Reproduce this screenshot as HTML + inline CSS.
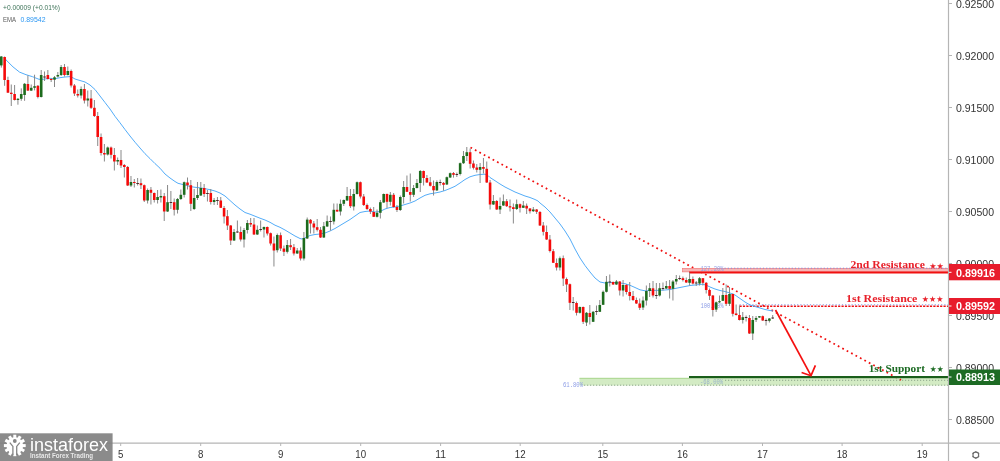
<!DOCTYPE html>
<html><head><meta charset="utf-8"><title>Chart</title>
<style>
html,body{margin:0;padding:0;background:#fff;}
body{width:1000px;height:461px;overflow:hidden;position:relative;font-family:"Liberation Sans",sans-serif;}
svg{position:absolute;left:0;top:0;display:block}
.ax text{font-family:"Liberation Sans",sans-serif;font-size:11px;fill:#333}
.lbl{font-family:"Liberation Serif",serif;font-weight:bold;font-size:11px}
.star{font-family:"DejaVu Sans",sans-serif;font-size:8.4px}
.pill{font-family:"Liberation Sans",sans-serif;font-weight:bold;font-size:11px;fill:#fff}
.fib{font-family:"Liberation Mono",monospace;font-size:6.5px;fill:#8d9de6}
</style></head><body>
<svg width="1000" height="461" viewBox="0 0 1000 461">
<rect width="1000" height="461" fill="#fff"/>
<!-- header -->
<text x="3" y="9.5" font-family="Liberation Sans, sans-serif" font-size="7.6" fill="#3d7358" textLength="57" lengthAdjust="spacingAndGlyphs">+0.00009 (+0.01%)</text>
<text x="3" y="22" font-family="Liberation Sans, sans-serif" font-size="7" fill="#5a5a5a" textLength="13" lengthAdjust="spacingAndGlyphs">EMA</text>
<text x="20.5" y="22" font-family="Liberation Sans, sans-serif" font-size="7" fill="#2b97f3" textLength="25" lengthAdjust="spacingAndGlyphs">0.89542</text>

<!-- support zone -->
<rect x="579.5" y="378" width="369" height="7.5" fill="#d3ebc4"/>
<path d="M579.5 378.3H689" stroke="#a9d68e" stroke-width="1"/>
<path d="M584 385.2H948" stroke="#8fa78c" stroke-width="1" stroke-dasharray="1.2 1.8"/>
<path d="M725 380.3H948" stroke="#8fa78c" stroke-width="1" stroke-dasharray="1.2 1.8"/>
<!-- trend line dotted -->
<path d="M470.5 147.5L901 380" stroke="#f01010" stroke-width="1.75" stroke-dasharray="1.75 3.28" fill="none"/>
<rect x="689" y="376" width="259.5" height="2.2" fill="#1a5e1a"/>
<text class="fib" x="563" y="387" textLength="20" lengthAdjust="spacingAndGlyphs">61.80%</text>
<text class="fib" x="700" y="383.5" style="fill:#9bb3c9" textLength="23" lengthAdjust="spacingAndGlyphs">-68.00%</text>

<!-- 2nd resistance zone -->
<rect x="682.5" y="268.3" width="266" height="3.6" fill="#f7b5b5" stroke="#f07070" stroke-width="0.6"/>
<path d="M724.5 268.2H948" stroke="#7f8fe0" stroke-width="1" stroke-dasharray="1.2 2"/>
<rect x="689" y="271.5" width="259.5" height="2" fill="#f01010"/>
<text class="fib" x="700.5" y="270.5" textLength="23" lengthAdjust="spacingAndGlyphs">127.20%</text>

<!-- 1st resistance line -->
<path d="M739.5 306.2H948.5" stroke="#f01010" stroke-width="1.6" stroke-dasharray="2.2 1.2"/>
<path d="M739.5 304.8H948" stroke="#7f8fe0" stroke-width="1" stroke-dasharray="1.2 2"/>
<text class="fib" x="700.5" y="307.5" textLength="23" lengthAdjust="spacingAndGlyphs">100.00%</text>

<!-- EMA -->
<polyline fill="none" stroke="#4aa8f8" stroke-width="0.95" stroke-linejoin="round" points="4.5,57.5 5.9,59.8 13,66.9 19.5,72.1 26,74.7 32.5,76.7 39,79.3 43,79.3 49.5,78.3 55,78.7 60,77.7 65,77 70,76.6 72,77.3 75,79 80,80.5 85,82 90,85 95,89.5 100,96 105,102.5 110,109 115,116.3 120,122.8 125,129.5 130,136 135,142.2 140,148 145,153.7 150,158.6 155,163.6 160,168.2 165,174 170,178 175,181.5 178,183.3 182,184.3 186,185.2 190,186.5 195,187.3 200,187.8 205,188.7 210,189.7 215,191 220,193 225,196 230,200.5 235,205 240,209 245,212.5 250,214.2 255,216.2 260,218.2 265,220 270,222.3 275,225.2 280,227.3 285,230 290,233 295,236 300,238.5 302,239 305,237.8 310,235.5 315,234.5 320,234 325,233 330,231 335,228.5 340,225.5 345,222.5 350,219.5 355,216 360,212.5 365,211.5 370,211 375,212 380,211.5 385,209 390,207.5 395,207 400,206 405,204.5 410,203 415,201 420,198 425,195.3 430,193.8 435,193 440,192 445,190.5 450,188.5 455,186.3 460,183 465,179.5 470,176.8 475,175.3 480,174.5 485,174.2 488,175.5 490,177.5 495,180.7 500,184 505,187 510,189.5 515,192 520,194 525,196 530,197.5 535,199.5 538,201 540,203 545,207 550,212 555,218 560,224 565,231 570,239 575,249 580,258 585,265.5 590,272 595,278 600,282 605,283 610,282.5 615,282.5 620,283 625,283.7 630,285.3 635,287.5 640,289.8 645,290.8 650,290.5 655,290.4 660,290.3 665,290 670,289.5 675,288.5 680,287.5 685,286.5 690,285.5 695,285 700,284.5 703,284.2 707,285.5 710,287 715,289 720,290.5 725,291.5 730,293 735,295 740,298.5 745,302 750,305 755,306.5 760,308 765,309.5 770,310.5 773,311"/>
<!-- candles -->
<path d="M1.30 56.0V67.6M4.62 56.5V85.8M7.95 76.7V93.0M11.28 84.5V106.0M14.60 85.0V100.5M17.93 98.0V104.7M21.25 88.4V100.8M24.58 83.0V100.8M27.90 75.4V91.0M31.23 84.5V91.0M34.55 74.7V90.4M37.88 85.0V98.4M41.20 70.0V97.5M44.52 71.5V81.0M47.85 70.0V79.5M51.17 78.0V82.0M54.50 76.0V87.0M57.83 72.0V77.5M61.15 65.0V76.0M64.48 64.0V76.5M67.80 66.5V75.5M71.12 69.5V87.5M74.45 84.0V96.0M77.78 89.5V97.5M81.10 86.5V98.5M84.42 84.0V103.5M87.75 90.5V106.5M91.08 90.0V109.0M94.40 100.0V117.0M97.73 112.0V146.0M101.05 133.5V155.5M104.38 144.0V161.5M107.70 146.5V155.5M111.03 146.5V158.5M114.35 148.0V170.5M117.67 157.5V165.0M121.00 150.0V168.0M124.33 164.0V177.5M127.65 166.0V186.0M130.98 176.0V187.0M134.30 179.0V187.5M137.63 178.0V185.5M140.95 178.5V189.0M144.28 184.5V202.0M147.60 188.5V203.5M150.93 187.0V204.5M154.25 192.5V202.5M157.58 190.0V203.5M160.90 189.5V202.5M164.23 193.0V221.0M167.55 185.0V212.0M170.88 191.0V209.0M174.20 198.5V215.5M177.53 198.0V213.5M180.85 189.5V200.0M184.18 181.5V197.5M187.50 177.5V189.5M190.83 180.0V211.0M194.15 189.0V210.0M197.48 182.0V200.0M200.80 182.0V196.0M204.13 184.0V197.0M207.45 190.0V201.5M210.78 189.0V204.5M214.10 198.0V205.0M217.43 197.0V205.0M220.75 197.0V208.0M224.08 206.0V223.5M227.40 210.0V230.0M230.73 225.0V245.0M234.05 229.0V241.0M237.38 220.5V233.0M240.70 226.5V241.5M244.03 228.0V247.5M247.35 220.0V233.5M250.68 218.0V227.0M254.00 218.0V235.0M257.33 225.5V235.0M260.65 220.5V231.5M263.98 226.5V237.5M267.30 226.5V235.5M270.62 232.5V245.5M273.95 236.5V266.5M277.28 233.5V252.5M280.60 232.5V251.0M283.93 245.5V256.0M287.25 240.0V253.5M290.58 239.0V250.0M293.90 244.0V255.5M297.23 248.0V254.0M300.55 247.5V260.5M303.88 232.0V260.5M307.20 217.5V239.0M310.53 219.0V233.5M313.85 221.0V233.5M317.18 219.0V231.5M320.50 227.0V238.0M323.83 222.0V238.0M327.15 215.5V227.0M330.48 216.5V230.5M333.80 203.5V224.5M337.13 203.5V212.0M340.45 199.5V215.5M343.78 199.5V206.0M347.10 187.0V201.0M350.43 189.0V208.0M353.75 189.0V210.5M357.08 181.5V194.5M360.40 181.5V198.5M363.73 194.0V206.0M367.05 203.5V210.0M370.38 207.5V214.0M373.70 207.0V217.0M377.03 209.5V217.5M380.35 200.0V218.5M383.68 193.5V203.0M387.00 193.5V208.0M390.33 192.0V205.5M393.65 193.0V207.5M396.98 205.0V212.0M400.30 195.5V211.0M403.63 181.0V203.5M406.95 175.5V192.0M410.28 173.5V201.5M413.60 185.0V197.0M416.93 179.0V188.5M420.25 170.0V192.0M423.58 170.5V185.5M426.90 175.0V183.0M430.23 177.0V186.5M433.55 180.5V195.5M436.88 180.3V191.0M440.20 179.6V185.5M443.53 182.0V190.7M446.85 176.5V185.0M450.18 172.5V178.0M453.50 172.0V177.6M456.83 172.5V177.0M460.15 162.5V175.5M463.48 151.0V164.0M466.80 147.0V161.0M470.13 148.5V168.5M473.45 160.5V169.5M476.78 164.0V172.5M480.10 163.0V183.0M483.43 158.0V173.5M486.75 161.5V183.0M490.08 180.0V209.5M493.40 195.0V205.0M496.73 200.0V210.0M500.05 197.5V214.0M503.38 194.5V206.0M506.70 199.0V207.0M510.03 199.5V211.5M513.35 203.5V223.5M516.67 199.5V210.0M520.00 203.5V212.5M523.32 201.0V208.0M526.65 203.5V214.0M529.98 208.0V213.5M533.30 207.0V212.0M536.62 209.0V214.0M539.95 211.0V226.0M543.27 222.0V235.5M546.60 225.5V240.0M549.92 235.0V252.5M553.25 249.0V263.0M556.57 258.5V270.5M559.90 256.5V270.5M563.23 255.5V286.0M566.55 277.5V292.0M569.88 283.5V310.0M573.20 297.0V310.5M576.52 301.5V315.5M579.85 306.5V313.5M583.17 306.5V324.0M586.50 312.0V326.0M589.82 305.0V324.5M593.15 311.0V322.0M596.48 305.5V315.0M599.80 300.0V312.0M603.12 290.5V305.0M606.45 276.0V292.5M609.77 274.5V286.5M613.10 281.5V285.0M616.42 280.0V285.0M619.75 281.0V295.5M623.07 280.0V296.5M626.40 284.0V294.5M629.73 282.0V300.5M633.05 291.0V301.0M636.38 297.5V304.0M639.70 298.5V310.0M643.02 296.5V310.0M646.35 285.5V305.5M649.67 283.0V297.0M653.00 281.0V297.5M656.33 283.0V299.0M659.65 283.0V296.5M662.98 282.5V290.5M666.30 281.0V289.0M669.62 280.0V298.5M672.95 280.0V300.5M676.27 275.0V284.5M679.60 275.5V280.0M682.92 276.5V281.5M686.25 277.5V283.0M689.58 272.5V285.5M692.90 276.5V284.5M696.23 281.0V286.0M699.55 277.0V285.5M702.88 278.0V285.5M706.20 282.0V293.5M709.52 288.5V300.0M712.85 295.0V316.5M716.17 301.5V312.0M719.50 295.5V303.0M722.83 288.0V301.0M726.15 284.5V306.0M729.48 287.0V306.0M732.80 293.5V316.5M736.12 304.5V315.5M739.45 305.5V320.5M742.77 312.0V323.5M746.10 315.5V321.5M749.42 315.0V334.0M752.75 316.0V340.0M756.08 316.0V322.0M759.40 316.0V318.0M762.73 315.5V321.0M766.05 318.5V325.5M769.38 318.0V322.5M772.70 315.0V319.0" stroke="#888888" stroke-width="1" fill="none"/>
<rect x="0.00" y="56.5" width="2.6" height="8.9" fill="#1d6b1d"/>
<rect x="3.33" y="57.0" width="2.6" height="23.0" fill="#f50a0a"/>
<rect x="6.65" y="80.0" width="2.6" height="12.7" fill="#f50a0a"/>
<rect x="9.98" y="92.7" width="2.6" height="1.3" fill="#f50a0a"/>
<rect x="13.30" y="94.0" width="2.6" height="6.0" fill="#f50a0a"/>
<rect x="16.62" y="98.8" width="2.6" height="1.2" fill="#1d6b1d"/>
<rect x="19.95" y="94.0" width="2.6" height="4.8" fill="#1d6b1d"/>
<rect x="23.28" y="83.8" width="2.6" height="11.2" fill="#1d6b1d"/>
<rect x="26.60" y="84.0" width="2.6" height="6.6" fill="#f50a0a"/>
<rect x="29.93" y="87.8" width="2.6" height="2.8" fill="#1d6b1d"/>
<rect x="33.25" y="86.2" width="2.6" height="1.6" fill="#1d6b1d"/>
<rect x="36.58" y="85.8" width="2.6" height="11.2" fill="#f50a0a"/>
<rect x="39.90" y="75.0" width="2.6" height="22.0" fill="#1d6b1d"/>
<rect x="43.23" y="76.5" width="2.6" height="1.0" fill="#4a2a2a"/>
<rect x="46.55" y="75.0" width="2.6" height="4.0" fill="#f50a0a"/>
<rect x="49.88" y="79.0" width="2.6" height="1.0" fill="#f50a0a"/>
<rect x="53.20" y="77.3" width="2.6" height="2.4" fill="#1d6b1d"/>
<rect x="56.53" y="75.0" width="2.6" height="1.5" fill="#1d6b1d"/>
<rect x="59.85" y="67.0" width="2.6" height="8.0" fill="#1d6b1d"/>
<rect x="63.18" y="67.0" width="2.6" height="8.0" fill="#f50a0a"/>
<rect x="66.50" y="71.0" width="2.6" height="4.0" fill="#1d6b1d"/>
<rect x="69.83" y="71.0" width="2.6" height="14.5" fill="#f50a0a"/>
<rect x="73.15" y="85.5" width="2.6" height="8.0" fill="#f50a0a"/>
<rect x="76.48" y="94.0" width="2.6" height="1.5" fill="#f50a0a"/>
<rect x="79.80" y="89.0" width="2.6" height="6.5" fill="#1d6b1d"/>
<rect x="83.12" y="89.0" width="2.6" height="11.5" fill="#f50a0a"/>
<rect x="86.45" y="98.5" width="2.6" height="2.0" fill="#1d6b1d"/>
<rect x="89.78" y="98.5" width="2.6" height="9.3" fill="#f50a0a"/>
<rect x="93.10" y="107.8" width="2.6" height="8.2" fill="#f50a0a"/>
<rect x="96.43" y="116.0" width="2.6" height="21.0" fill="#f50a0a"/>
<rect x="99.75" y="137.0" width="2.6" height="16.0" fill="#f50a0a"/>
<rect x="103.08" y="153.0" width="2.6" height="1.5" fill="#f50a0a"/>
<rect x="106.40" y="147.5" width="2.6" height="7.0" fill="#1d6b1d"/>
<rect x="109.73" y="147.5" width="2.6" height="7.3" fill="#f50a0a"/>
<rect x="113.05" y="155.0" width="2.6" height="6.5" fill="#f50a0a"/>
<rect x="116.38" y="160.0" width="2.6" height="1.5" fill="#1d6b1d"/>
<rect x="119.70" y="160.0" width="2.6" height="5.5" fill="#f50a0a"/>
<rect x="123.03" y="165.0" width="2.6" height="2.0" fill="#f50a0a"/>
<rect x="126.35" y="167.0" width="2.6" height="18.5" fill="#f50a0a"/>
<rect x="129.68" y="182.0" width="2.6" height="3.5" fill="#1d6b1d"/>
<rect x="133.00" y="182.0" width="2.6" height="1.0" fill="#f50a0a"/>
<rect x="136.33" y="183.0" width="2.6" height="1.0" fill="#4a2a2a"/>
<rect x="139.65" y="183.2" width="2.6" height="2.0" fill="#f50a0a"/>
<rect x="142.97" y="185.2" width="2.6" height="15.3" fill="#f50a0a"/>
<rect x="146.30" y="190.0" width="2.6" height="10.5" fill="#1d6b1d"/>
<rect x="149.62" y="189.8" width="2.6" height="3.0" fill="#f50a0a"/>
<rect x="152.95" y="193.0" width="2.6" height="7.0" fill="#f50a0a"/>
<rect x="156.28" y="197.0" width="2.6" height="3.0" fill="#1d6b1d"/>
<rect x="159.60" y="196.0" width="2.6" height="1.5" fill="#1d6b1d"/>
<rect x="162.93" y="196.2" width="2.6" height="15.3" fill="#f50a0a"/>
<rect x="166.25" y="202.2" width="2.6" height="9.3" fill="#1d6b1d"/>
<rect x="169.58" y="202.0" width="2.6" height="1.0" fill="#4a2a2a"/>
<rect x="172.90" y="202.2" width="2.6" height="7.6" fill="#f50a0a"/>
<rect x="176.23" y="199.0" width="2.6" height="10.8" fill="#1d6b1d"/>
<rect x="179.55" y="194.8" width="2.6" height="4.2" fill="#1d6b1d"/>
<rect x="182.88" y="182.2" width="2.6" height="12.6" fill="#1d6b1d"/>
<rect x="186.20" y="182.5" width="2.6" height="2.7" fill="#f50a0a"/>
<rect x="189.53" y="185.2" width="2.6" height="18.6" fill="#f50a0a"/>
<rect x="192.85" y="198.0" width="2.6" height="11.0" fill="#1d6b1d"/>
<rect x="196.18" y="195.0" width="2.6" height="3.0" fill="#1d6b1d"/>
<rect x="199.50" y="188.0" width="2.6" height="7.5" fill="#1d6b1d"/>
<rect x="202.83" y="188.0" width="2.6" height="6.0" fill="#f50a0a"/>
<rect x="206.15" y="193.0" width="2.6" height="1.0" fill="#4a2a2a"/>
<rect x="209.48" y="193.0" width="2.6" height="9.0" fill="#f50a0a"/>
<rect x="212.80" y="200.0" width="2.6" height="2.0" fill="#1d6b1d"/>
<rect x="216.12" y="200.0" width="2.6" height="1.0" fill="#4a2a2a"/>
<rect x="219.45" y="200.5" width="2.6" height="7.3" fill="#f50a0a"/>
<rect x="222.78" y="208.0" width="2.6" height="8.5" fill="#f50a0a"/>
<rect x="226.10" y="216.2" width="2.6" height="9.3" fill="#f50a0a"/>
<rect x="229.43" y="225.5" width="2.6" height="15.0" fill="#f50a0a"/>
<rect x="232.75" y="232.0" width="2.6" height="8.5" fill="#1d6b1d"/>
<rect x="236.08" y="231.5" width="2.6" height="1.0" fill="#4a2a2a"/>
<rect x="239.40" y="232.0" width="2.6" height="7.5" fill="#f50a0a"/>
<rect x="242.73" y="230.0" width="2.6" height="9.5" fill="#1d6b1d"/>
<rect x="246.05" y="223.0" width="2.6" height="7.0" fill="#1d6b1d"/>
<rect x="249.38" y="223.0" width="2.6" height="1.5" fill="#f50a0a"/>
<rect x="252.70" y="224.5" width="2.6" height="10.0" fill="#f50a0a"/>
<rect x="256.03" y="229.8" width="2.6" height="4.7" fill="#1d6b1d"/>
<rect x="259.35" y="229.0" width="2.6" height="1.0" fill="#4a2a2a"/>
<rect x="262.68" y="227.0" width="2.6" height="2.5" fill="#1d6b1d"/>
<rect x="266.00" y="227.0" width="2.6" height="6.5" fill="#f50a0a"/>
<rect x="269.32" y="233.2" width="2.6" height="10.3" fill="#f50a0a"/>
<rect x="272.65" y="243.5" width="2.6" height="7.0" fill="#f50a0a"/>
<rect x="275.98" y="235.0" width="2.6" height="15.2" fill="#1d6b1d"/>
<rect x="279.30" y="235.2" width="2.6" height="13.3" fill="#f50a0a"/>
<rect x="282.62" y="248.5" width="2.6" height="3.3" fill="#f50a0a"/>
<rect x="285.95" y="245.0" width="2.6" height="6.8" fill="#1d6b1d"/>
<rect x="289.28" y="245.2" width="2.6" height="2.0" fill="#f50a0a"/>
<rect x="292.60" y="247.2" width="2.6" height="6.3" fill="#f50a0a"/>
<rect x="295.93" y="250.5" width="2.6" height="3.0" fill="#1d6b1d"/>
<rect x="299.25" y="250.5" width="2.6" height="8.0" fill="#f50a0a"/>
<rect x="302.57" y="238.0" width="2.6" height="20.5" fill="#1d6b1d"/>
<rect x="305.90" y="219.6" width="2.6" height="18.9" fill="#1d6b1d"/>
<rect x="309.23" y="219.8" width="2.6" height="3.7" fill="#f50a0a"/>
<rect x="312.55" y="223.5" width="2.6" height="4.0" fill="#f50a0a"/>
<rect x="315.88" y="227.2" width="2.6" height="2.6" fill="#f50a0a"/>
<rect x="319.20" y="229.8" width="2.6" height="7.7" fill="#f50a0a"/>
<rect x="322.53" y="226.2" width="2.6" height="11.3" fill="#1d6b1d"/>
<rect x="325.85" y="221.2" width="2.6" height="5.3" fill="#1d6b1d"/>
<rect x="329.18" y="221.0" width="2.6" height="1.0" fill="#4a2a2a"/>
<rect x="332.50" y="209.8" width="2.6" height="11.7" fill="#1d6b1d"/>
<rect x="335.83" y="209.8" width="2.6" height="1.7" fill="#f50a0a"/>
<rect x="339.15" y="203.8" width="2.6" height="7.7" fill="#1d6b1d"/>
<rect x="342.48" y="200.0" width="2.6" height="3.8" fill="#1d6b1d"/>
<rect x="345.80" y="196.0" width="2.6" height="4.5" fill="#1d6b1d"/>
<rect x="349.12" y="196.0" width="2.6" height="10.2" fill="#f50a0a"/>
<rect x="352.45" y="194.0" width="2.6" height="12.5" fill="#1d6b1d"/>
<rect x="355.78" y="182.2" width="2.6" height="11.8" fill="#1d6b1d"/>
<rect x="359.10" y="182.2" width="2.6" height="14.3" fill="#f50a0a"/>
<rect x="362.43" y="196.5" width="2.6" height="8.5" fill="#f50a0a"/>
<rect x="365.75" y="205.0" width="2.6" height="4.0" fill="#f50a0a"/>
<rect x="369.08" y="209.0" width="2.6" height="2.5" fill="#f50a0a"/>
<rect x="372.40" y="212.0" width="2.6" height="4.8" fill="#f50a0a"/>
<rect x="375.73" y="212.8" width="2.6" height="4.0" fill="#1d6b1d"/>
<rect x="379.05" y="202.2" width="2.6" height="10.6" fill="#1d6b1d"/>
<rect x="382.38" y="194.0" width="2.6" height="8.5" fill="#1d6b1d"/>
<rect x="385.70" y="194.0" width="2.6" height="7.8" fill="#f50a0a"/>
<rect x="389.03" y="194.8" width="2.6" height="7.0" fill="#1d6b1d"/>
<rect x="392.35" y="194.8" width="2.6" height="12.2" fill="#f50a0a"/>
<rect x="395.68" y="207.0" width="2.6" height="3.0" fill="#f50a0a"/>
<rect x="399.00" y="197.0" width="2.6" height="13.0" fill="#1d6b1d"/>
<rect x="402.33" y="187.0" width="2.6" height="10.0" fill="#1d6b1d"/>
<rect x="405.65" y="187.0" width="2.6" height="4.8" fill="#f50a0a"/>
<rect x="408.98" y="192.0" width="2.6" height="2.8" fill="#f50a0a"/>
<rect x="412.30" y="188.0" width="2.6" height="6.8" fill="#1d6b1d"/>
<rect x="415.62" y="183.0" width="2.6" height="5.0" fill="#1d6b1d"/>
<rect x="418.95" y="171.0" width="2.6" height="12.0" fill="#1d6b1d"/>
<rect x="422.28" y="171.0" width="2.6" height="7.0" fill="#f50a0a"/>
<rect x="425.60" y="178.0" width="2.6" height="4.5" fill="#f50a0a"/>
<rect x="428.93" y="182.3" width="2.6" height="3.5" fill="#f50a0a"/>
<rect x="432.25" y="186.0" width="2.6" height="4.3" fill="#f50a0a"/>
<rect x="435.58" y="182.0" width="2.6" height="8.4" fill="#1d6b1d"/>
<rect x="438.90" y="182.0" width="2.6" height="1.0" fill="#4a2a2a"/>
<rect x="442.23" y="182.9" width="2.6" height="1.9" fill="#f50a0a"/>
<rect x="445.55" y="177.2" width="2.6" height="7.3" fill="#1d6b1d"/>
<rect x="448.88" y="173.2" width="2.6" height="4.3" fill="#1d6b1d"/>
<rect x="452.20" y="173.1" width="2.6" height="1.7" fill="#f50a0a"/>
<rect x="455.53" y="174.0" width="2.6" height="1.0" fill="#4a2a2a"/>
<rect x="458.85" y="163.2" width="2.6" height="10.8" fill="#1d6b1d"/>
<rect x="462.18" y="156.0" width="2.6" height="7.2" fill="#1d6b1d"/>
<rect x="465.50" y="152.2" width="2.6" height="3.8" fill="#1d6b1d"/>
<rect x="468.83" y="152.2" width="2.6" height="11.6" fill="#f50a0a"/>
<rect x="472.15" y="163.5" width="2.6" height="4.3" fill="#f50a0a"/>
<rect x="475.48" y="167.5" width="2.6" height="2.3" fill="#f50a0a"/>
<rect x="478.80" y="167.0" width="2.6" height="2.8" fill="#1d6b1d"/>
<rect x="482.12" y="167.0" width="2.6" height="1.8" fill="#f50a0a"/>
<rect x="485.45" y="168.8" width="2.6" height="13.7" fill="#f50a0a"/>
<rect x="488.78" y="182.5" width="2.6" height="22.0" fill="#f50a0a"/>
<rect x="492.10" y="201.0" width="2.6" height="3.5" fill="#1d6b1d"/>
<rect x="495.43" y="201.0" width="2.6" height="8.5" fill="#f50a0a"/>
<rect x="498.75" y="206.0" width="2.6" height="3.5" fill="#1d6b1d"/>
<rect x="502.08" y="201.2" width="2.6" height="4.3" fill="#1d6b1d"/>
<rect x="505.40" y="201.2" width="2.6" height="5.0" fill="#f50a0a"/>
<rect x="508.73" y="206.2" width="2.6" height="1.3" fill="#f50a0a"/>
<rect x="512.05" y="207.2" width="2.6" height="1.8" fill="#f50a0a"/>
<rect x="515.38" y="204.2" width="2.6" height="4.8" fill="#1d6b1d"/>
<rect x="518.70" y="204.2" width="2.6" height="3.6" fill="#f50a0a"/>
<rect x="522.02" y="205.5" width="2.6" height="2.3" fill="#1d6b1d"/>
<rect x="525.35" y="205.8" width="2.6" height="2.7" fill="#f50a0a"/>
<rect x="528.68" y="208.5" width="2.6" height="2.7" fill="#f50a0a"/>
<rect x="532.00" y="209.5" width="2.6" height="1.7" fill="#1d6b1d"/>
<rect x="535.33" y="209.5" width="2.6" height="2.3" fill="#f50a0a"/>
<rect x="538.65" y="212.0" width="2.6" height="13.5" fill="#f50a0a"/>
<rect x="541.98" y="225.5" width="2.6" height="6.3" fill="#f50a0a"/>
<rect x="545.30" y="232.0" width="2.6" height="7.5" fill="#f50a0a"/>
<rect x="548.62" y="239.5" width="2.6" height="11.5" fill="#f50a0a"/>
<rect x="551.95" y="251.2" width="2.6" height="11.6" fill="#f50a0a"/>
<rect x="555.27" y="263.0" width="2.6" height="4.5" fill="#f50a0a"/>
<rect x="558.60" y="258.2" width="2.6" height="9.3" fill="#1d6b1d"/>
<rect x="561.93" y="258.2" width="2.6" height="20.3" fill="#f50a0a"/>
<rect x="565.25" y="279.0" width="2.6" height="5.5" fill="#f50a0a"/>
<rect x="568.58" y="284.2" width="2.6" height="18.6" fill="#f50a0a"/>
<rect x="571.90" y="302.0" width="2.6" height="1.0" fill="#4a2a2a"/>
<rect x="575.23" y="303.0" width="2.6" height="9.8" fill="#f50a0a"/>
<rect x="578.55" y="307.0" width="2.6" height="5.8" fill="#1d6b1d"/>
<rect x="581.88" y="307.0" width="2.6" height="14.8" fill="#f50a0a"/>
<rect x="585.20" y="312.8" width="2.6" height="9.7" fill="#1d6b1d"/>
<rect x="588.52" y="313.0" width="2.6" height="4.0" fill="#f50a0a"/>
<rect x="591.85" y="311.8" width="2.6" height="10.0" fill="#1d6b1d"/>
<rect x="595.18" y="311.0" width="2.6" height="1.0" fill="#4a2a2a"/>
<rect x="598.50" y="305.0" width="2.6" height="6.8" fill="#1d6b1d"/>
<rect x="601.83" y="291.8" width="2.6" height="13.0" fill="#1d6b1d"/>
<rect x="605.15" y="281.8" width="2.6" height="10.0" fill="#1d6b1d"/>
<rect x="608.48" y="281.5" width="2.6" height="1.0" fill="#4a2a2a"/>
<rect x="611.80" y="282.0" width="2.6" height="2.5" fill="#f50a0a"/>
<rect x="615.12" y="281.5" width="2.6" height="3.0" fill="#1d6b1d"/>
<rect x="618.45" y="281.5" width="2.6" height="9.0" fill="#f50a0a"/>
<rect x="621.77" y="285.0" width="2.6" height="5.5" fill="#1d6b1d"/>
<rect x="625.10" y="285.0" width="2.6" height="7.0" fill="#f50a0a"/>
<rect x="628.43" y="292.0" width="2.6" height="4.0" fill="#f50a0a"/>
<rect x="631.75" y="296.0" width="2.6" height="4.0" fill="#f50a0a"/>
<rect x="635.08" y="300.0" width="2.6" height="3.5" fill="#f50a0a"/>
<rect x="638.40" y="303.5" width="2.6" height="4.3" fill="#f50a0a"/>
<rect x="641.73" y="300.5" width="2.6" height="7.0" fill="#1d6b1d"/>
<rect x="645.05" y="291.0" width="2.6" height="9.5" fill="#1d6b1d"/>
<rect x="648.38" y="288.2" width="2.6" height="2.8" fill="#1d6b1d"/>
<rect x="651.70" y="288.3" width="2.6" height="7.2" fill="#f50a0a"/>
<rect x="655.03" y="295.0" width="2.6" height="1.0" fill="#4a2a2a"/>
<rect x="658.35" y="288.2" width="2.6" height="7.3" fill="#1d6b1d"/>
<rect x="661.68" y="288.0" width="2.6" height="1.0" fill="#4a2a2a"/>
<rect x="665.00" y="286.0" width="2.6" height="2.5" fill="#1d6b1d"/>
<rect x="668.33" y="286.0" width="2.6" height="2.8" fill="#f50a0a"/>
<rect x="671.65" y="281.5" width="2.6" height="7.3" fill="#1d6b1d"/>
<rect x="674.98" y="279.0" width="2.6" height="2.5" fill="#1d6b1d"/>
<rect x="678.30" y="278.0" width="2.6" height="1.0" fill="#4a2a2a"/>
<rect x="681.62" y="278.2" width="2.6" height="1.8" fill="#f50a0a"/>
<rect x="684.95" y="280.0" width="2.6" height="2.5" fill="#f50a0a"/>
<rect x="688.28" y="279.0" width="2.6" height="3.8" fill="#1d6b1d"/>
<rect x="691.60" y="279.0" width="2.6" height="4.5" fill="#f50a0a"/>
<rect x="694.93" y="282.5" width="2.6" height="1.0" fill="#4a2a2a"/>
<rect x="698.25" y="278.2" width="2.6" height="5.3" fill="#1d6b1d"/>
<rect x="701.58" y="278.2" width="2.6" height="4.6" fill="#f50a0a"/>
<rect x="704.90" y="282.8" width="2.6" height="7.2" fill="#f50a0a"/>
<rect x="708.23" y="290.0" width="2.6" height="5.8" fill="#f50a0a"/>
<rect x="711.55" y="295.5" width="2.6" height="14.5" fill="#f50a0a"/>
<rect x="714.88" y="302.3" width="2.6" height="7.3" fill="#1d6b1d"/>
<rect x="718.20" y="301.2" width="2.6" height="1.1" fill="#1d6b1d"/>
<rect x="721.53" y="295.0" width="2.6" height="5.8" fill="#1d6b1d"/>
<rect x="724.85" y="295.0" width="2.6" height="8.8" fill="#f50a0a"/>
<rect x="728.18" y="294.0" width="2.6" height="9.8" fill="#1d6b1d"/>
<rect x="731.50" y="294.0" width="2.6" height="19.8" fill="#f50a0a"/>
<rect x="734.83" y="313.5" width="2.6" height="1.5" fill="#f50a0a"/>
<rect x="738.15" y="315.0" width="2.6" height="5.0" fill="#f50a0a"/>
<rect x="741.48" y="317.2" width="2.6" height="2.8" fill="#1d6b1d"/>
<rect x="744.80" y="317.0" width="2.6" height="1.0" fill="#4a2a2a"/>
<rect x="748.12" y="318.0" width="2.6" height="15.5" fill="#f50a0a"/>
<rect x="751.45" y="320.0" width="2.6" height="13.5" fill="#1d6b1d"/>
<rect x="754.78" y="318.0" width="2.6" height="1.8" fill="#1d6b1d"/>
<rect x="758.10" y="316.2" width="2.6" height="1.3" fill="#1d6b1d"/>
<rect x="761.43" y="316.2" width="2.6" height="4.3" fill="#f50a0a"/>
<rect x="764.75" y="320.0" width="2.6" height="1.0" fill="#4a2a2a"/>
<rect x="768.08" y="318.5" width="2.6" height="2.3" fill="#1d6b1d"/>
<rect x="771.40" y="317.5" width="2.6" height="1.0" fill="#4a2a2a"/>

<!-- arrow -->
<path d="M775.5 310L811 375.7" stroke="#f51010" stroke-width="1.7" fill="none"/>
<path d="M801.6 372.5L811 375.7L815.4 365.3" stroke="#f51010" stroke-width="1.7" fill="none" stroke-linejoin="miter"/>

<!-- labels -->
<text class="lbl" x="850.5" y="268.4" fill="#e8202a" textLength="74.5" lengthAdjust="spacingAndGlyphs">2nd Resistance</text>
<text class="star" x="929.3" y="268.6" fill="#e8202a" textLength="14.6" lengthAdjust="spacingAndGlyphs">★★</text>
<text class="lbl" x="846" y="302" fill="#e8202a" textLength="71.4" lengthAdjust="spacingAndGlyphs">1st Resistance</text>
<text class="star" x="921.8" y="302.2" fill="#e8202a" textLength="21.5" lengthAdjust="spacingAndGlyphs">★★★</text>
<text class="lbl" x="868.7" y="372.2" fill="#1d6b24" textLength="56.4" lengthAdjust="spacingAndGlyphs">1st Support</text>
<text class="star" x="929.8" y="372.4" fill="#1d6b24" textLength="13.8" lengthAdjust="spacingAndGlyphs">★★</text>

<!-- axes -->
<g class="ax">
<rect x="949" y="0" width="51" height="443" fill="#fff"/>
<path d="M948.5 0V461" stroke="#b5b5b5" stroke-width="1.2"/>
<path d="M0 443.2H1000" stroke="#b5b5b5" stroke-width="1.2"/>
<path d="M948.5 3.5H952" stroke="#b5b5b5" stroke-width="1"/><text x="956" y="7.7" textLength="38" lengthAdjust="spacingAndGlyphs">0.92500</text>
<path d="M948.5 55.5H952" stroke="#b5b5b5" stroke-width="1"/><text x="956" y="59.7" textLength="38" lengthAdjust="spacingAndGlyphs">0.92000</text>
<path d="M948.5 107.5H952" stroke="#b5b5b5" stroke-width="1"/><text x="956" y="111.7" textLength="38" lengthAdjust="spacingAndGlyphs">0.91500</text>
<path d="M948.5 159.5H952" stroke="#b5b5b5" stroke-width="1"/><text x="956" y="163.7" textLength="38" lengthAdjust="spacingAndGlyphs">0.91000</text>
<path d="M948.5 211.5H952" stroke="#b5b5b5" stroke-width="1"/><text x="956" y="215.7" textLength="38" lengthAdjust="spacingAndGlyphs">0.90500</text>
<path d="M948.5 263.5H952" stroke="#b5b5b5" stroke-width="1"/><text x="956" y="267.7" textLength="38" lengthAdjust="spacingAndGlyphs">0.90000</text>
<path d="M948.5 315.5H952" stroke="#b5b5b5" stroke-width="1"/><text x="956" y="319.7" textLength="38" lengthAdjust="spacingAndGlyphs">0.89500</text>
<path d="M948.5 367.5H952" stroke="#b5b5b5" stroke-width="1"/><text x="956" y="371.7" textLength="38" lengthAdjust="spacingAndGlyphs">0.89000</text>
<path d="M948.5 419.5H952" stroke="#b5b5b5" stroke-width="1"/><text x="956" y="423.7" textLength="38" lengthAdjust="spacingAndGlyphs">0.88500</text>

<path d="M120.7 443V446" stroke="#b5b5b5" stroke-width="1"/><text x="120.7" y="458" text-anchor="middle" textLength="5.4" lengthAdjust="spacingAndGlyphs">5</text>
<path d="M200.7 443V446" stroke="#b5b5b5" stroke-width="1"/><text x="200.7" y="458" text-anchor="middle" textLength="5.4" lengthAdjust="spacingAndGlyphs">8</text>
<path d="M280.7 443V446" stroke="#b5b5b5" stroke-width="1"/><text x="280.7" y="458" text-anchor="middle" textLength="5.4" lengthAdjust="spacingAndGlyphs">9</text>
<path d="M360.7 443V446" stroke="#b5b5b5" stroke-width="1"/><text x="360.7" y="458" text-anchor="middle" textLength="10.8" lengthAdjust="spacingAndGlyphs">10</text>
<path d="M440.6 443V446" stroke="#b5b5b5" stroke-width="1"/><text x="440.6" y="458" text-anchor="middle" textLength="10.8" lengthAdjust="spacingAndGlyphs">11</text>
<path d="M520.2 443V446" stroke="#b5b5b5" stroke-width="1"/><text x="520.2" y="458" text-anchor="middle" textLength="10.8" lengthAdjust="spacingAndGlyphs">12</text>
<path d="M602.8 443V446" stroke="#b5b5b5" stroke-width="1"/><text x="602.8" y="458" text-anchor="middle" textLength="10.8" lengthAdjust="spacingAndGlyphs">15</text>
<path d="M682.4 443V446" stroke="#b5b5b5" stroke-width="1"/><text x="682.4" y="458" text-anchor="middle" textLength="10.8" lengthAdjust="spacingAndGlyphs">16</text>
<path d="M762.5 443V446" stroke="#b5b5b5" stroke-width="1"/><text x="762.5" y="458" text-anchor="middle" textLength="10.8" lengthAdjust="spacingAndGlyphs">17</text>
<path d="M842.1 443V446" stroke="#b5b5b5" stroke-width="1"/><text x="842.1" y="458" text-anchor="middle" textLength="10.8" lengthAdjust="spacingAndGlyphs">18</text>
<path d="M922.2 443V446" stroke="#b5b5b5" stroke-width="1"/><text x="922.2" y="458" text-anchor="middle" textLength="10.8" lengthAdjust="spacingAndGlyphs">19</text>

</g>
<!-- price pills -->
<rect x="949" y="264" width="51" height="16.3" fill="#e81c2c"/>
<path d="M949 272.3H951.5" stroke="#fff" stroke-width="1"/>
<text class="pill" x="956" y="276.6" textLength="39" lengthAdjust="spacingAndGlyphs">0.89916</text>
<rect x="949" y="298" width="51" height="16" fill="#e81c2c"/>
<path d="M949 306H951.5" stroke="#fff" stroke-width="1"/>
<text class="pill" x="956" y="310.2" textLength="39" lengthAdjust="spacingAndGlyphs">0.89592</text>
<rect x="949" y="369.5" width="51" height="15.5" fill="#1d6b24"/>
<path d="M949 377H951.5" stroke="#fff" stroke-width="1"/>
<text class="pill" x="956" y="381.3" textLength="39" lengthAdjust="spacingAndGlyphs">0.88913</text>

<!-- settings gear -->
<g stroke="#6a6a6a" fill="none">
<circle cx="975.8" cy="455" r="2.9" stroke-width="1.1"/>
<path d="M975.8 451.2v1M975.8 457.8v1M972.5 453.1l.9 .5M978.2 456.4l.9 .5M972.5 456.9l.9 -.5M978.2 453.6l.9 -.5" stroke-width="1.4"/>
</g>

<!-- logo -->
<rect x="0" y="433.3" width="112.6" height="27.7" fill="#7e7e7e" fill-opacity="0.9"/>
<g id="gear" fill="#fff">
<rect x="13.3" y="434.70000000000005" width="3" height="4" transform="rotate(0 14.8 445.6)"/>
<rect x="13.3" y="434.70000000000005" width="3" height="4" transform="rotate(30 14.8 445.6)"/>
<rect x="13.3" y="434.70000000000005" width="3" height="4" transform="rotate(60 14.8 445.6)"/>
<rect x="13.3" y="434.70000000000005" width="3" height="4" transform="rotate(90 14.8 445.6)"/>
<rect x="13.3" y="434.70000000000005" width="3" height="4" transform="rotate(120 14.8 445.6)"/>
<rect x="13.3" y="434.70000000000005" width="3" height="4" transform="rotate(150 14.8 445.6)"/>
<rect x="13.3" y="434.70000000000005" width="3" height="4" transform="rotate(210 14.8 445.6)"/>
<rect x="13.3" y="434.70000000000005" width="3" height="4" transform="rotate(240 14.8 445.6)"/>
<rect x="13.3" y="434.70000000000005" width="3" height="4" transform="rotate(270 14.8 445.6)"/>
<rect x="13.3" y="434.70000000000005" width="3" height="4" transform="rotate(300 14.8 445.6)"/>
<rect x="13.3" y="434.70000000000005" width="3" height="4" transform="rotate(330 14.8 445.6)"/>
<circle cx="14.8" cy="445.6" r="8.4"/>
<rect x="13.200000000000001" y="445.6" width="3.2" height="10.6"/>
<circle cx="14.8" cy="441.0" r="1.9" fill="#858585"/>
<path d="M9.8 442.70000000000005L12.9 446.40000000000003V455.20000000000005M19.8 442.70000000000005L16.7 446.40000000000003V455.20000000000005" stroke="#858585" stroke-width="1.3" fill="none"/>
</g>
<text x="30" y="450.5" font-family="Liberation Sans, sans-serif" font-size="18.6" fill="#fff" stroke="#8a8a8a" stroke-width="0.45" paint-order="stroke" textLength="78" lengthAdjust="spacingAndGlyphs">instaforex</text>
<text x="30" y="457.5" font-family="Liberation Sans, sans-serif" font-weight="bold" font-size="6.3" fill="#e8e8e8" textLength="63" lengthAdjust="spacingAndGlyphs">Instant Forex Trading</text>
</svg>
</body></html>
